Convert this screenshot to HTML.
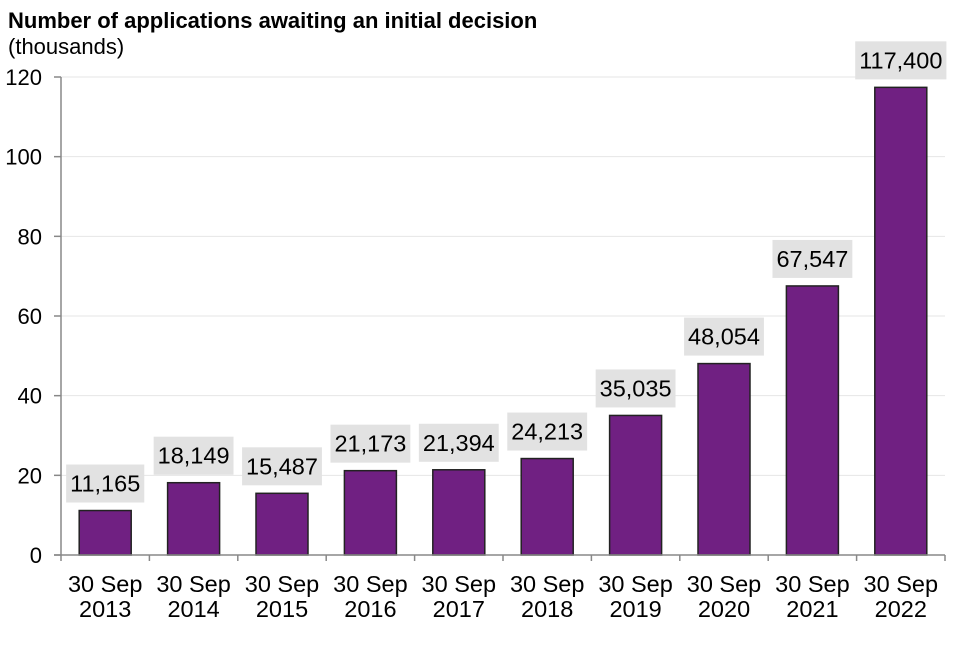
<!DOCTYPE html>
<html><head><meta charset="utf-8"><style>
body{margin:0;background:#fff;}
svg text{font-family:"Liberation Sans",Arial,sans-serif;fill:#000;}
</style></head><body>
<svg id="chart" width="960" height="640">
<text x="8" y="28" font-size="22" font-weight="bold">Number of applications awaiting an initial decision</text>
<text x="8" y="54" font-size="22">(thousands)</text>
<g id="grid"></g><g id="bars"></g><g id="labels"></g><g id="axes"></g>
</svg>
<script>
const categories=["30 Sep|2013","30 Sep|2014","30 Sep|2015","30 Sep|2016","30 Sep|2017","30 Sep|2018","30 Sep|2019","30 Sep|2020","30 Sep|2021","30 Sep|2022"];
const values=[11.165,18.149,15.487,21.173,21.394,24.213,35.035,48.054,67.547,117.4];
const valueLabels=["11,165","18,149","15,487","21,173","21,394","24,213","35,035","48,054","67,547","117,400"];
const yTicks=[0,20,40,60,80,100,120];
const NS="http://www.w3.org/2000/svg";
const x0=61,x1=945,y0=555,y1=77,ymax=120;
const band=(x1-x0)/categories.length;
const y=v=>y0-(v/ymax)*(y0-y1);
const xc=i=>x0+band*(i+0.5);
function mk(tag,attrs,parent){const e=document.createElementNS(NS,tag);for(const k in attrs)e.setAttribute(k,attrs[k]);document.getElementById(parent).appendChild(e);return e;}
yTicks.forEach(t=>{
 if(t>0){const g=mk('line',{x1:x0,x2:x1,y1:y(t),y2:y(t),stroke:'#e6e6e6','stroke-width':1},'grid');
 
 }
 const tl=mk('text',{x:42,y:y(t)+8,'font-size':22,'text-anchor':'end'},'axes');tl.textContent=t;
 
 
});
values.forEach((v,i)=>{
 const b=mk('rect',{x:xc(i)-26,y:y(v),width:52,height:y0-y(v),fill:'#702082',stroke:'#222','stroke-width':1.5},'bars');
 
 
 const by=y(v)-8;
 const bx=mk('rect',{x:xc(i)-38,y:by-38,width:76,height:38,fill:'#e2e2e2'},'labels');
 
 
 const t=mk('text',{x:xc(i),y:by-11,'font-size':23.5,'text-anchor':'middle'},'labels');t.textContent=valueLabels[i];
 
 
 const w=Math.max(76,t.getComputedTextLength()+8);
 bx.setAttribute('x',xc(i)-w/2);bx.setAttribute('width',w);
 const parts=categories[i].split('|');
 const c1=mk('text',{x:xc(i),y:592,'font-size':23.5,'text-anchor':'middle'},'axes');c1.textContent=parts[0];
 
 
 const c2=mk('text',{x:xc(i),y:617,'font-size':23.5,'text-anchor':'middle'},'axes');c2.textContent=parts[1];
 
 
});
for(let i=0;i<=categories.length;i++){
 const tk=mk('line',{x1:x0+band*i,x2:x0+band*i,y1:y0,y2:y0+6,stroke:'#888','stroke-width':1.5},'axes');
 
 
}
const ya=mk('line',{x1:x0,x2:x0,y1:y1,y2:y0,stroke:'#888','stroke-width':1.5},'axes');


const xa=mk('line',{x1:54,x2:x1,y1:y0,y2:y0,stroke:'#888','stroke-width':1.5},'axes');


yTicks.forEach(t=>{const m=mk('line',{x1:54,x2:x0,y1:y(t),y2:y(t),stroke:'#888','stroke-width':1.5},'axes');
 
 });
</script>
</body></html>
